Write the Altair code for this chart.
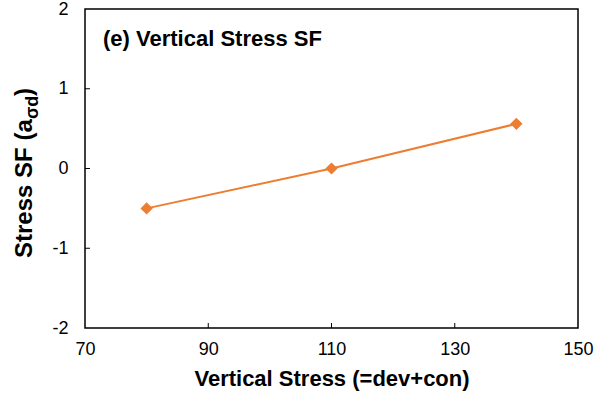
import altair as alt
import pandas as pd

# data
stress = [80, 110, 140]
sf = [-0.50, 0.00, 0.56]
x_ticks = [70, 90, 110, 130, 150]
y_ticks = [-2, -1, 0, 1, 2]
x_inner = [90, 110, 130]
y_inner = [-1, 0, 1]

FONT = "Liberation Sans"
ORANGE = "#ED7D31"
W, H = 493, 319

df = pd.DataFrame({"x": stress, "y": sf})
xs = alt.Scale(domain=[70, 150], nice=False, zero=False)
ys = alt.Scale(domain=[-2, 2], nice=False, zero=False)

base = alt.Chart(df)

line = base.mark_line(color=ORANGE, strokeWidth=2).encode(
    x=alt.X("x:Q", scale=xs,
            axis=alt.Axis(values=x_ticks, title="Vertical Stress (=dev+con)",
                          grid=False, ticks=False, domain=False,
                          labelFontSize=18, labelFont=FONT, labelColor="#000000",
                          labelPadding=12, titleFont=FONT, titleFontSize=22,
                          titleFontWeight="bold", titleColor="#000000",
                          titlePadding=10, labelFlush=False,
                          labelExpr="'' + datum.value")),
    y=alt.Y("y:Q", scale=ys,
            axis=alt.Axis(values=y_ticks, title=None, grid=False, ticks=False,
                          domain=False, labelFontSize=18, labelFont=FONT,
                          labelColor="#000000", labelPadding=17, labelFlush=False,
                          labelExpr="'' + datum.value")),
)
pts = base.mark_point(shape="diamond", filled=True, color=ORANGE, size=150,
                      opacity=1).encode(x=alt.X("x:Q", scale=xs), y=alt.Y("y:Q", scale=ys))

xt = alt.Chart(pd.DataFrame({"t": x_inner})).mark_rule(color="#000000", strokeWidth=1).encode(
    x=alt.X("t:Q", scale=xs), y=alt.value(H), y2=alt.value(H - 5))
yt = alt.Chart(pd.DataFrame({"t": y_inner})).mark_rule(color="#000000", strokeWidth=1).encode(
    y=alt.Y("t:Q", scale=ys), x=alt.value(0), x2=alt.value(5))

title = alt.Chart(pd.DataFrame({"s": ["(e) Vertical Stress SF"]})).mark_text(
    font=FONT, fontSize=22, fontWeight="bold", align="left", baseline="alphabetic",
    color="#000000").encode(text="s:N", x=alt.value(18), y=alt.value(37))

# y-axis title with subscript
ymain = alt.Chart(pd.DataFrame({"s": ["Stress SF (a"]})).mark_text(
    font=FONT, fontSize=24, fontWeight="bold", align="left", baseline="alphabetic",
    angle=270, color="#000000").encode(text="s:N", x=alt.value(-53), y=alt.value(249))
ysub = alt.Chart(pd.DataFrame({"s": ["σd"]})).mark_text(
    font=FONT, fontSize=18, fontWeight="bold", align="left", baseline="alphabetic",
    angle=270, color="#000000").encode(text="s:N", x=alt.value(-47), y=alt.value(110))
yclose = alt.Chart(pd.DataFrame({"s": [")"]})).mark_text(
    font=FONT, fontSize=24, fontWeight="bold", align="left", baseline="alphabetic",
    angle=270, color="#000000").encode(text="s:N", x=alt.value(-53), y=alt.value(87))

chart = alt.layer(line, pts, xt, yt, title, ymain, ysub, yclose).properties(
    width=W, height=H,
    autosize=alt.AutoSizeParams(type="none"),
    padding={"left": 85, "top": 9, "right": 27, "bottom": 68},
    background="white",
).configure_view(stroke="#000000", strokeWidth=1.5)

chart.save("out.html", embed_options={"renderer": "svg", "actions": False})
